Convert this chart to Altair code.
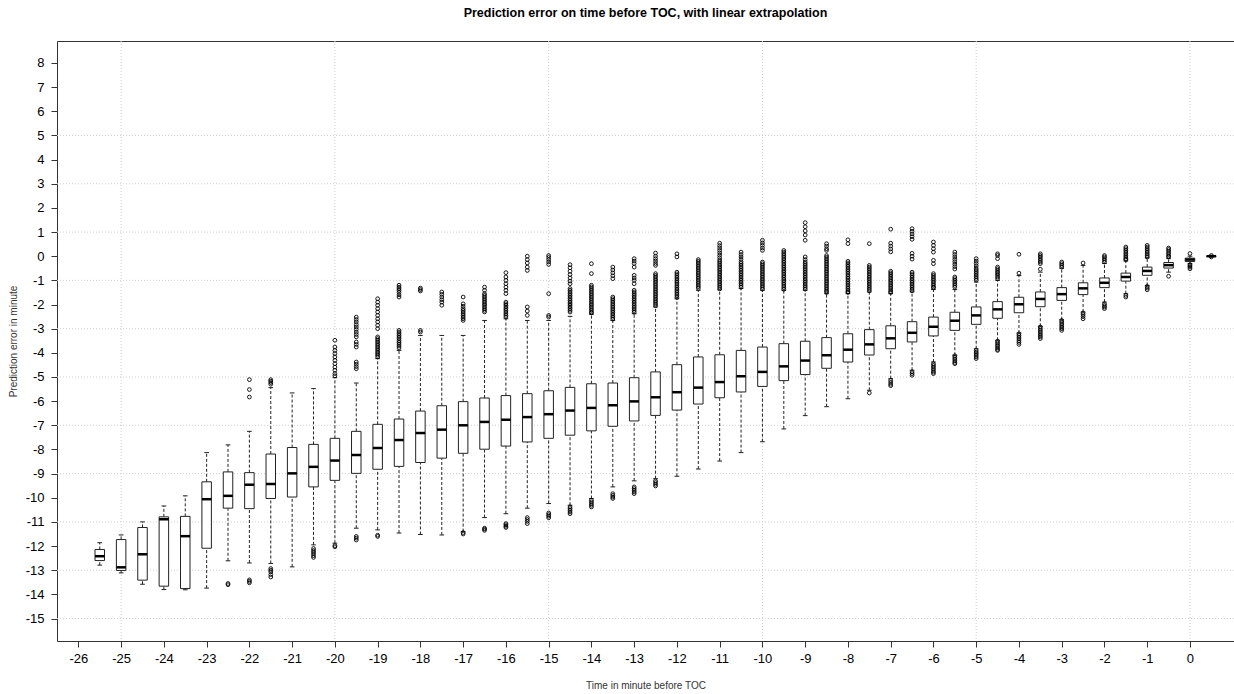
import altair as alt
import pandas as pd

# Minutes before top of climb at which the prediction was made
minutes = [-25.5, -25, -24.5, -24, -23.5, -23, -22.5, -22, -21.5, -21, -20.5, -20,
           -19.5, -19, -18.5, -18, -17.5, -17, -16.5, -16, -15.5, -15, -14.5, -14,
           -13.5, -13, -12.5, -12, -11.5, -11, -10.5, -10, -9.5, -9, -8.5, -8,
           -7.5, -7, -6.5, -6, -5.5, -5, -4.5, -4, -3.5, -3, -2.5, -2, -1.5, -1,
           -0.5, 0, 0.5]

whisker_low = [-12.79, -13.11, -13.58, -13.80, -13.81, -13.74, -12.61, -12.70, -12.72, -12.86,
               -11.95, -11.88, -11.26, -11.33, -11.46, -11.52, -11.54, -11.40, -10.82, -10.66,
               -10.43, -10.24, -10.31, -10.03, -9.55, -9.30, -9.21, -9.11, -8.81, -8.48,
               -8.13, -7.68, -7.15, -6.60, -6.23, -5.90, -5.55, -5.07, -4.72, -4.38,
               -4.10, -3.83, -3.48, -3.18, -2.90, -2.63, -2.31, -1.90, -1.55, -1.21,
               -0.66, -0.30, -0.02]

q1 = [-12.60, -13.01, -13.41, -13.66, -13.76, -12.09, -10.43, -10.45, -10.03, -9.97,
      -9.55, -9.28, -8.99, -8.82, -8.70, -8.54, -8.36, -8.16, -7.99, -7.86,
      -7.69, -7.54, -7.41, -7.23, -7.04, -6.82, -6.59, -6.37, -6.12, -5.86,
      -5.62, -5.39, -5.15, -4.90, -4.64, -4.38, -4.09, -3.83, -3.55, -3.30,
      -3.07, -2.82, -2.57, -2.34, -2.09, -1.83, -1.59, -1.30, -1.03, -0.79,
      -0.49, -0.22, -0.01]

median = [-12.42, -12.88, -12.34, -10.89, -11.59, -10.06, -9.92, -9.46, -9.43, -8.99,
          -8.72, -8.46, -8.23, -7.94, -7.61, -7.32, -7.18, -7.00, -6.86, -6.77,
          -6.66, -6.54, -6.39, -6.28, -6.17, -6.01, -5.84, -5.63, -5.44, -5.21,
          -4.97, -4.79, -4.56, -4.32, -4.10, -3.87, -3.65, -3.40, -3.17, -2.92,
          -2.67, -2.45, -2.20, -1.99, -1.77, -1.57, -1.33, -1.10, -0.86, -0.61,
          -0.37, -0.14, 0.00]

q3 = [-12.14, -11.73, -11.23, -10.79, -10.77, -9.34, -8.93, -8.96, -8.19, -7.92,
      -7.79, -7.54, -7.25, -6.96, -6.74, -6.41, -6.19, -6.02, -5.87, -5.77,
      -5.69, -5.57, -5.43, -5.28, -5.25, -5.03, -4.79, -4.49, -4.17, -4.08,
      -3.90, -3.76, -3.62, -3.52, -3.37, -3.21, -3.04, -2.88, -2.71, -2.52,
      -2.32, -2.10, -1.88, -1.70, -1.48, -1.30, -1.10, -0.90, -0.70, -0.45,
      -0.26, -0.08, 0.01]

whisker_high = [-11.86, -11.54, -11.00, -10.34, -9.92, -8.13, -7.81, -7.25, -5.44, -5.66,
                -5.48, -5.03, -5.25, -4.24, -3.90, -3.28, -3.28, -3.28, -2.66, -2.59,
                -2.66, -2.66, -2.49, -2.41, -2.66, -2.38, -2.10, -1.76, -1.41, -1.39,
                -1.34, -1.41, -1.41, -1.41, -1.55, -1.55, -1.48, -1.55, -1.48, -1.38,
                -1.38, -1.07, -1.00, -0.80, -0.66, -0.50, -0.38, -0.30, -0.20, -0.07,
                -0.10, 0.00, 0.02]

outliers = [
    [],
    [],
    [],
    [],
    [],
    [],
    [-13.55, -13.60],
    [-5.11, -5.52, -5.83, -13.40, -13.46, -13.52],
    [-5.11, -5.17, -5.23, -5.30, -12.93, -13.00, -13.07, -13.18, -13.28],
    [],
    [-12.10, -12.18, -12.25, -12.32, -12.40, -12.47],
    [-3.48, -3.76, -3.90, -4.03, -4.17, -4.31, -4.45, -4.59, -4.72, -4.86, -4.95,
     -11.98, -12.03],
    [-2.52, -2.62, -2.72, -2.83, -2.93, -3.03, -3.14, -3.24, -3.34, -3.55, -3.65, -3.76,
     -4.38, -4.47, -4.57, -4.66, -11.60, -11.67, -11.75],
    [-1.76, -1.90, -2.03, -2.17, -2.31, -2.45, -2.59, -2.72, -2.86, -3.00, -3.34, -3.41,
     -3.48, -3.55, -3.62, -3.69, -3.76, -3.83, -3.90, -3.97, -4.03, -4.10, -4.17,
     -11.55, -11.60],
    [-1.20, -1.28, -1.35, -1.42, -1.50, -1.60, -1.69, -3.07, -3.14, -3.21, -3.28, -3.35,
     -3.42, -3.50, -3.57, -3.64, -3.72, -3.80],
    [-1.32, -1.38, -1.44, -3.07, -3.14],
    [-1.48, -1.58, -1.69, -1.80, -1.90, -2.03],
    [-1.69, -1.97, -2.07, -2.17, -2.24, -2.31, -2.38, -2.45, -2.52, -2.59, -2.66,
     -11.44, -11.50],
    [-1.28, -1.41, -1.55, -1.62, -1.69, -1.76, -1.83, -1.90, -1.97, -2.03, -2.10, -2.17,
     -2.24, -2.31, -11.26, -11.30, -11.35],
    [-0.68, -0.86, -1.00, -1.14, -1.28, -1.41, -1.55, -1.90, -1.97, -2.03, -2.10, -2.17,
     -2.24, -2.31, -2.38, -2.45, -2.52, -11.07, -11.12, -11.18, -11.23],
    [0.00, -0.14, -0.28, -0.45, -0.59, -2.10, -2.27, -2.45, -10.82, -10.90, -10.98, -11.07],
    [0.03, -0.05, -0.14, -0.24, -0.34, -1.55, -2.45, -2.52, -10.63, -10.70, -10.76, -10.83],
    [-0.35, -0.48, -0.62, -0.76, -0.90, -1.03, -1.14, -1.34, -1.41, -1.48, -1.55, -1.62,
     -1.69, -1.76, -1.83, -1.90, -1.97, -2.03, -2.10, -2.17, -2.24, -2.31,
     -10.38, -10.45, -10.52, -10.59, -10.66],
    [-0.31, -0.72, -1.20, -1.27, -1.34, -1.41, -1.48, -1.55, -1.62, -1.69, -1.76, -1.83,
     -1.90, -1.97, -2.03, -2.10, -2.17, -2.24, -2.31, -2.35,
     -10.10, -10.17, -10.24, -10.31, -10.38],
    [-0.45, -0.57, -0.69, -0.81, -0.93, -1.69, -1.76, -1.83, -1.90, -1.97, -2.04, -2.11,
     -2.18, -2.25, -2.32, -2.39, -2.46, -2.53, -2.60, -9.83, -9.90, -9.97, -10.03],
    [-0.10, -0.20, -0.30, -0.45, -0.79, -0.90, -1.00, -1.14, -1.41, -1.48, -1.55, -1.62,
     -1.69, -1.76, -1.83, -1.90, -1.97, -2.04, -2.11, -2.18, -2.25, -2.32,
     -9.55, -9.62, -9.69, -9.76, -9.83],
    [0.13, 0.00, -0.10, -0.20, -0.30, -0.38, -0.72, -0.79, -0.86, -0.93, -1.00, -1.07,
     -1.14, -1.21, -1.28, -1.35, -1.42, -1.49, -1.56, -1.63, -1.70, -1.77, -1.84, -1.91,
     -1.98, -2.05, -9.30, -9.37, -9.44, -9.51],
    [0.10, -0.03, -0.66, -0.73, -0.80, -0.87, -0.94, -1.01, -1.08, -1.15, -1.22, -1.29,
     -1.36, -1.43, -1.50, -1.57, -1.64, -1.71],
    [-0.14, -0.21, -0.28, -0.35, -0.42, -0.49, -0.56, -0.63, -0.70, -0.77, -0.84, -0.91,
     -0.98, -1.05, -1.12, -1.19, -1.26, -1.33],
    [0.54, 0.44, 0.34, 0.24, 0.14, 0.04, -0.06, -0.16, -0.23, -0.30, -0.37, -0.44, -0.51,
     -0.58, -0.65, -0.72, -0.79, -0.86, -0.93, -1.00, -1.07, -1.14, -1.21, -1.28, -1.35],
    [0.17, 0.07, -0.03, -0.13, -0.23, -0.30, -0.37, -0.44, -0.51, -0.58, -0.65, -0.72,
     -0.79, -0.86, -0.93, -1.00, -1.07, -1.14, -1.21, -1.28],
    [0.66, 0.55, 0.45, 0.34, 0.24, -0.24, -0.31, -0.38, -0.45, -0.52, -0.59, -0.66, -0.73,
     -0.80, -0.87, -0.94, -1.01, -1.08, -1.15, -1.22, -1.29, -1.36],
    [0.24, 0.17, 0.10, 0.03, -0.04, -0.11, -0.18, -0.25, -0.32, -0.39, -0.46, -0.53, -0.60,
     -0.67, -0.74, -0.81, -0.88, -0.95, -1.02, -1.09, -1.16, -1.23, -1.30, -1.37],
    [1.39, 1.22, 1.05, 0.88, 0.66, -0.03, -0.14, -0.24, -0.31, -0.38, -0.45, -0.52, -0.59,
     -0.66, -0.73, -0.80, -0.87, -0.94, -1.01, -1.08, -1.15, -1.22, -1.29, -1.36],
    [0.52, 0.42, 0.31, 0.24, 0.03, -0.04, -0.11, -0.18, -0.25, -0.32, -0.39, -0.46, -0.53,
     -0.60, -0.67, -0.74, -0.81, -0.88, -0.95, -1.02, -1.09, -1.16, -1.23, -1.30, -1.37,
     -1.44, -1.50],
    [0.68, 0.52, -0.21, -0.28, -0.35, -0.42, -0.49, -0.56, -0.63, -0.70, -0.77, -0.84,
     -0.91, -0.98, -1.05, -1.12, -1.19, -1.26, -1.33, -1.40, -1.47, -1.50],
    [0.52, -0.38, -0.45, -0.52, -0.59, -0.66, -0.73, -0.80, -0.87, -0.94, -1.01, -1.08,
     -1.15, -1.22, -1.29, -1.36, -1.43, -5.66],
    [1.12, 0.54, 0.42, 0.30, 0.18, -0.62, -0.69, -0.76, -0.83, -0.90, -0.97, -1.04, -1.11,
     -1.18, -1.25, -1.32, -1.39, -1.46, -1.50, -5.14, -5.22, -5.30, -5.36],
    [1.14, 1.03, 0.92, 0.81, 0.70, 0.12, 0.00, -0.12, -0.66, -0.73, -0.80, -0.87, -0.94,
     -1.01, -1.08, -1.15, -1.22, -1.29, -1.36, -1.43, -4.79, -4.86, -4.93],
    [0.59, 0.45, 0.31, 0.17, -0.17, -0.31, -0.72, -0.79, -0.86, -0.93, -1.00, -1.07, -1.14,
     -1.21, -1.28, -1.31, -4.45, -4.52, -4.59, -4.66, -4.73, -4.80, -4.86],
    [0.17, 0.07, -0.03, -0.13, -0.23, -0.33, -0.43, -0.53, -0.86, -0.93, -1.00, -1.07,
     -1.14, -1.21, -1.28, -4.12, -4.19, -4.26, -4.33, -4.40, -4.45],
    [-0.10, -0.20, -0.30, -0.40, -0.50, -0.57, -0.64, -0.71, -0.78, -0.85, -0.92, -0.99,
     -3.90, -3.97, -4.03, -4.10, -4.17, -4.24],
    [0.10, 0.03, -0.10, -0.45, -0.52, -0.59, -0.66, -0.72, -0.79, -0.86, -0.93,
     -3.52, -3.59, -3.66, -3.72, -3.79, -3.86, -3.90],
    [0.08, -0.70, -3.21, -3.28, -3.35, -3.42, -3.50, -3.57, -3.65],
    [0.10, 0.03, -0.03, -0.10, -0.17, -0.24, -0.31, -0.54,
     -2.93, -3.00, -3.07, -3.14, -3.21, -3.28, -3.34, -3.41],
    [-0.24, -0.31, -0.38, -0.45, -2.66, -2.73, -2.80, -2.87, -2.94, -3.00, -3.07],
    [-0.28, -2.35, -2.42, -2.50, -2.59],
    [0.03, -0.03, -0.10, -0.17, -0.24, -1.97, -2.04, -2.10, -2.17],
    [0.38, 0.31, 0.24, 0.17, 0.10, 0.03, -0.03, -0.10, -0.14, -1.62, -1.69],
    [0.45, 0.38, 0.31, 0.24, 0.17, 0.10, 0.03, -0.03, -1.25, -1.32, -1.39],
    [0.34, 0.28, 0.21, 0.14, 0.07, 0.00, -0.03, -0.83],
    [0.11, -0.35, -0.40, -0.45, -0.52],
    [0.03, -0.03],
]

x_ticks = [-26, -25, -24, -23, -22, -21, -20, -19, -18, -17, -16, -15, -14, -13,
           -12, -11, -10, -9, -8, -7, -6, -5, -4, -3, -2, -1, 0]
y_ticks = [8, 7, 6, 5, 4, 3, 2, 1, 0, -1, -2, -3, -4, -5, -6, -7, -8, -9, -10,
           -11, -12, -13, -14, -15]
grid_x = [-25, -20, -15, -10, -5, 0]
grid_y = [5, 3, 1, -1, -3, -5, -7, -9, -11, -13, -15]

boxes = pd.DataFrame({
    "minute": minutes, "lw": whisker_low, "q1": q1, "med": median,
    "q3": q3, "uw": whisker_high,
})
points = pd.DataFrame(
    [(m, v) for m, vals in zip(minutes, outliers) for v in vals],
    columns=["minute", "value"],
)

FONT = "Liberation Sans"
INK = "#222222"
x_scale = alt.Scale(domain=[-26.5, 1.03], nice=False, zero=False)
y_scale = alt.Scale(domain=[-15.93, 8.91], nice=False, zero=False)

# plain hyphen-minus in the tick labels
PLAIN = "toString(datum.value)"

x_axis = alt.Axis(
    values=x_ticks, title="Time in minute before TOC", grid=False, domain=False,
    labelExpr=PLAIN,
    labelFont=FONT, labelFontSize=13, labelColor="black", labelPadding=5,
    labelOverlap=False, labelFlush=False, tickColor="#333333", tickSize=6,
    titleFont=FONT, titleFontSize=10, titleFontWeight="normal", titleColor="#333333",
    titleY=44, titleBaseline="middle",
)
y_axis = alt.Axis(
    values=y_ticks, title="Prediction error in minute", grid=False, domain=False,
    labelExpr=PLAIN,
    labelFont=FONT, labelFontSize=13, labelColor="black", labelPadding=7,
    labelOverlap=False, labelFlush=False, tickColor="#333333", tickSize=6,
    titleFont=FONT, titleFontSize=10, titleFontWeight="normal", titleColor="#333333",
    titleX=-44, titleY=300, titleAngle=-90, titleAlign="center", titleBaseline="middle",
)


def xq(field):
    return alt.X(f"{field}:Q", scale=x_scale, axis=x_axis)


def yq(field):
    return alt.Y(f"{field}:Q", scale=y_scale, axis=y_axis)


grid_h = alt.Chart(pd.DataFrame({"v": grid_y})).mark_rule(
    color="#cfcfcf", strokeDash=[1, 2], strokeWidth=1
).encode(y=yq("v"))

grid_v = alt.Chart(pd.DataFrame({"v": grid_x})).mark_rule(
    color="#cfcfcf", strokeDash=[1, 2], strokeWidth=1
).encode(x=xq("v"))

base = alt.Chart(boxes).transform_calculate(
    bl="datum.minute - 0.111", br="datum.minute + 0.111",
    cl="datum.minute - 0.055", cr="datum.minute + 0.055",
)

whisk_up = base.mark_rule(color=INK, strokeDash=[3, 2], strokeWidth=1).encode(
    x=xq("minute"), y=yq("q3"), y2="uw:Q")
whisk_lo = base.mark_rule(color=INK, strokeDash=[3, 2], strokeWidth=1).encode(
    x=xq("minute"), y=yq("lw"), y2="q1:Q")

cap_up = base.mark_rule(color=INK, strokeWidth=1).encode(
    x=xq("cl"), x2="cr:Q", y=yq("uw"))
cap_lo = base.mark_rule(color=INK, strokeWidth=1).encode(
    x=xq("cl"), x2="cr:Q", y=yq("lw"))

box = base.mark_rect(fill="white", stroke=INK, strokeWidth=1).encode(
    x=xq("bl"), x2="br:Q", y=yq("q1"), y2="q3:Q")

med = base.mark_rule(color="black", strokeWidth=2.5).encode(
    x=xq("bl"), x2="br:Q", y=yq("med"))

outs = alt.Chart(points).mark_point(
    shape="circle", filled=False, size=14, color="black", strokeWidth=0.9, opacity=1
).encode(x=xq("minute"), y=yq("value"))

chart = alt.layer(
    grid_h, grid_v, whisk_up, whisk_lo, cap_up, cap_lo, box, med, outs
).properties(
    width=1177,
    height=600,
    autosize=alt.AutoSizeParams(type="none"),
    padding={"left": 57, "top": 41, "right": 0, "bottom": 53},
    background="white",
    title=alt.Title(
        "Prediction error on time before TOC, with linear extrapolation",
        font=FONT, fontSize=12.5, fontWeight="bold", color="black",
        anchor="middle", offset=21,
    ),
).configure_view(
    stroke="#333333", strokeWidth=1
)

chart.save("out.html", embed_options={"renderer": "svg", "actions": False})
